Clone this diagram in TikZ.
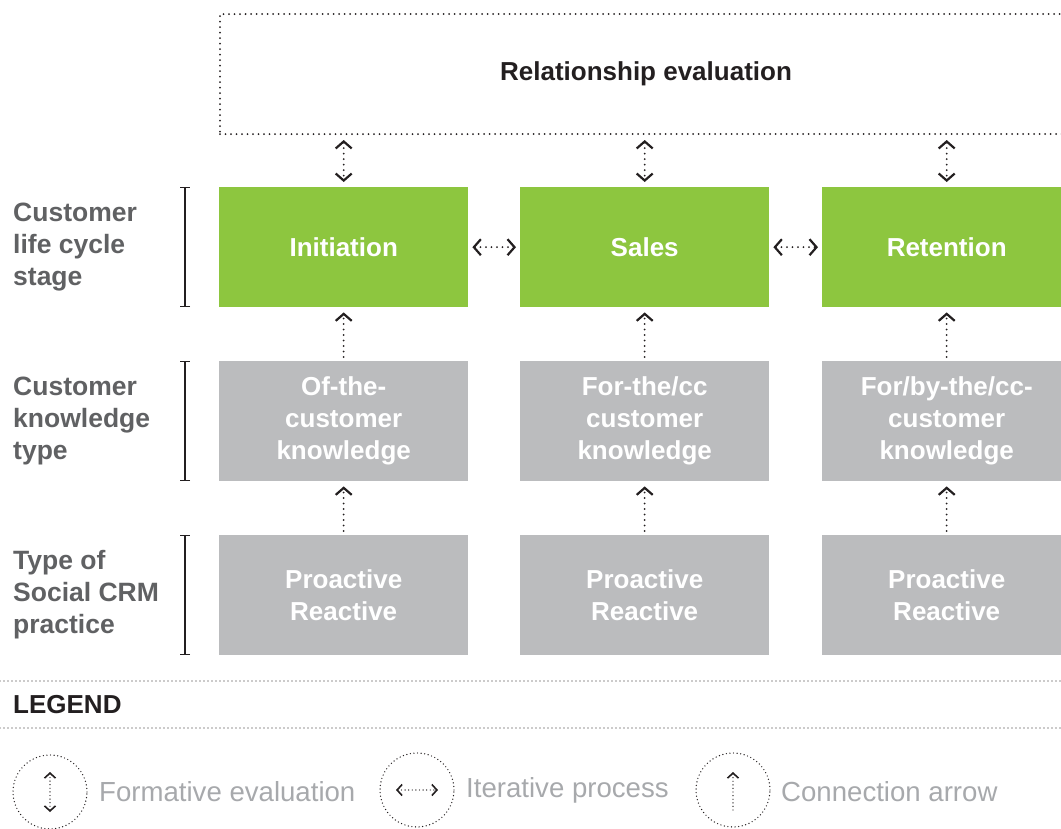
\documentclass[tikz,border=0pt]{standalone}
\usepackage{fontspec}
\setmainfont{Liberation Sans}
\usepackage{tikz}
\usetikzlibrary{arrows.meta, calc}
\definecolor{crmgreen}{RGB}{141,198,63}
\definecolor{crmgray}{RGB}{187,188,190}
\definecolor{labelgray}{RGB}{96,97,99}
\definecolor{legendgray}{RGB}{167,169,172}
\definecolor{inkblack}{RGB}{35,31,32}
\tikzset{>={Straight Barb[length=7pt, width=16pt, line width=2.2pt]}, font=\fontsize{26}{32}\selectfont\bfseries}
\tikzset{stage/.style={fill=crmgreen, text=white, minimum width=249pt,
    minimum height=120pt, anchor=north west, align=center, inner sep=0pt},
  ktype/.style={stage, fill=crmgray},
  dots/.style={draw=inkblack, line width=2pt, line cap=round, dash pattern=on 0pt off 5.5pt},
  sidelabel/.style={anchor=west, align=left, text=labelgray, inner sep=0pt,
    font=\fontsize{26.5}{32}\selectfont\bfseries},
  bracket/.style={draw=inkblack, line width=1.4pt, {Bar[width=10pt]}-{Bar[width=10pt]}},
  legcircle/.style={circle, draw=inkblack, line width=1.4pt, line cap=round,
    dash pattern=on 0pt off 3.6pt, minimum size=74pt, inner sep=0pt},
  legarrow/.style={dots, line width=1.4pt, dash pattern=on 0pt off 3.6pt,
    >={Straight Barb[length=5pt, width=11pt, line width=1.6pt]}},
  legtext/.style={anchor=west, inner sep=0pt, text=legendgray,
    font=\fontsize{27.6}{32}\selectfont}}

\begin{document}
\begin{tikzpicture}[x=1pt, y=-1pt]
  \useasboundingbox (0,0) rectangle (1061,828);
  % top evaluation box
  \node[dots, minimum width=852pt, minimum height=120pt, anchor=north west,
    text=inkblack, inner sep=0pt] (releval) at (219,13) {Relationship evaluation};

  % stages and knowledge rows
  \node[stage] (init) at (219,187) {Initiation};
  \node[stage] (sales) at (520,187) {Sales};
  \node[stage] (ret) at (822,187) {Retention};
  \node[ktype] (ofk) at (219,361) {Of-the-\\customer\\knowledge};
  \node[ktype] (fork) at (520,361) {For-the/cc\\customer\\knowledge};
  \node[ktype] (forbyk) at (822,361) {For/by-the/cc-\\customer\\knowledge};
  \foreach \n/\x in {pr1/219, pr2/520, pr3/822}
    \node[ktype] (\n) at (\x,535) {Proactive\\Reactive};

  % side labels and brackets
  \node[sidelabel] (lstage) at (13,247) {Customer\\life cycle\\stage};
  \node[sidelabel] (lknow) at (13,421) {Customer\\knowledge\\type};
  \node[sidelabel] (lprac) at (13,595) {Type of\\Social CRM\\practice};
  \foreach \n in {init, ofk, pr1}
    \draw[bracket] ($(\n.north west)+(-34,0)$) -- ($(\n.south west)+(-34,0)$);

  % formative evaluation
  \foreach \n in {init, sales, ret}
    \draw[dots, <->] ($(\n.north |- releval.south)+(0,5)$) -- ($(\n.north)+(0,-5)$);
  % iterative process
  \draw[dots, <->] ([xshift=4pt]init.east) -- ([xshift=-4pt]sales.west);
  \draw[dots, <->] ([xshift=4pt]sales.east) -- ([xshift=-4pt]ret.west);
  % connection arrows
  \foreach \a/\b in {ofk/init, fork/sales, forbyk/ret, pr1/ofk, pr2/fork, pr3/forbyk}
    \draw[dots, ->] ([yshift=4pt]\a.north) -- ([yshift=-5pt]\b.south);

  % legend
  \draw[dots, line width=1.2pt, dash pattern=on 0pt off 4pt] (0,681) -- (1061,681);
  \draw[dots, line width=1.2pt, dash pattern=on 0pt off 4pt] (0,728) -- (1061,728);
  \node[anchor=west, inner sep=0pt, text=inkblack] (legend) at (13,705) {LEGEND};

  \node[legcircle] (cform) at (50,792) {};
  \node[legcircle] (citer) at (417,790) {};
  \node[legcircle] (cconn) at (733,790) {};
  \draw[legarrow, <->] ([yshift=20pt]cform.center) -- ([yshift=-20pt]cform.center);
  \draw[legarrow, <->] ([xshift=-21pt]citer.center) -- ([xshift=21pt]citer.center);
  \draw[legarrow, ->] ([yshift=-20pt]cconn.center) -- ([yshift=18pt]cconn.center);
  \node[legtext] (tform) at (99,792) {Formative evaluation};
  \node[legtext] (titer) at (466,790) {Iterative process};
  \node[legtext] (tconn) at (781,792) {Connection arrow};
\end{tikzpicture}
\end{document}
